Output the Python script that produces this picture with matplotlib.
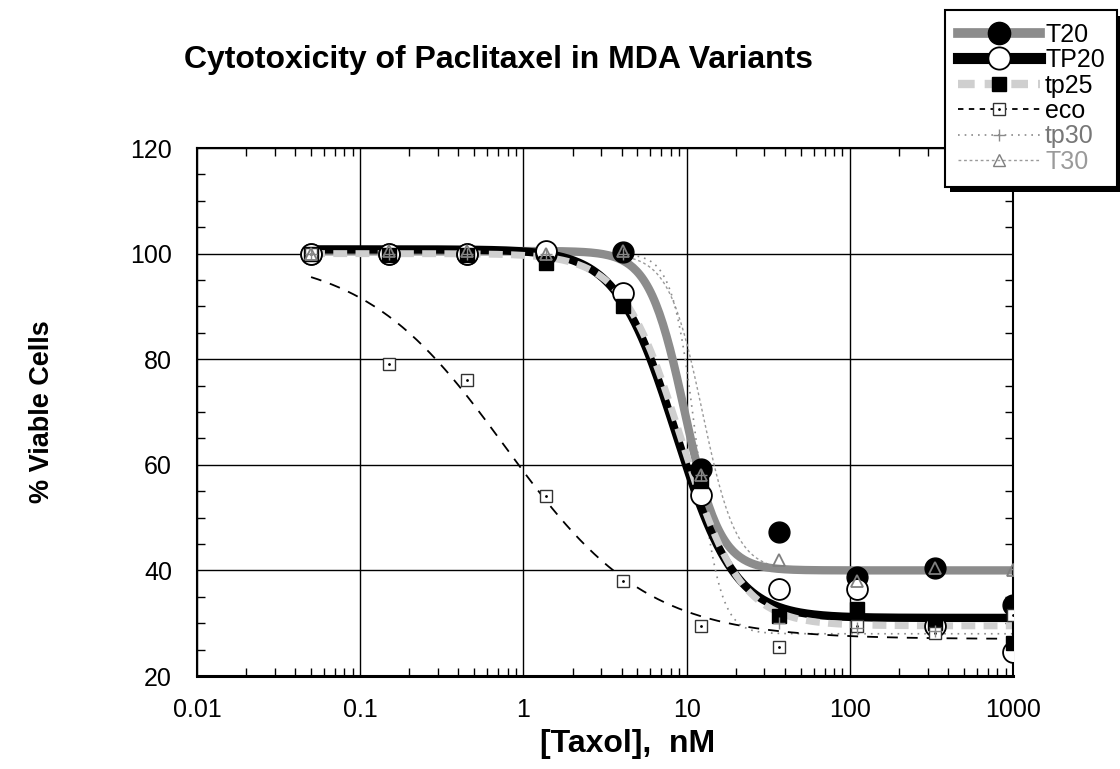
import numpy as np
import matplotlib.pyplot as plt
from matplotlib.lines import Line2D
from matplotlib.patches import Rectangle
from matplotlib.ticker import MultipleLocator, LogLocator, NullFormatter

plt.rcParams['font.family'] = ['Liberation Sans', 'DejaVu Sans']

# Taxol doses (nM) and % viable cells per cell line
doses = [0.05, 0.15, 0.45, 1.37, 4.1, 12.3, 37, 111, 333, 1000]
t20 = [100, 100, 100, 100, 100.3, 59.2, 47.2, 38.8, 40.4, 33.5]
tp20 = [100, 100, 100, 100.4, 92.5, 54.3, 36.4, 36.4, 29.5, 24.6]
tp25 = [100, 99.8, 99.8, 98.2, 90, 57, 31.3, 32.7, 30, 26.3]
eco = [100, 79, 76, 54, 38, 29.4, 25.4, 29.4, 28.2, 31.6]
tp30 = [100, 100, 100, 100, 100, 58, 30, 29, 28.5, 40.3]
t30 = [100, 100.4, 100.4, 100, 100.4, 58, 42, 38, 40.4, 40]

# four-parameter logistic fits: top, bottom, EC50, hill
fit_t20 = [100.5, 40, 9.7, 4.0]
fit_tp20 = [100.8, 31, 8.6, 2.4]
fit_tp25 = [100, 29.5, 9.3, 2.4]
fit_eco = [100, 27, 0.77, 1.0]
fit_tp30 = [100, 28, 11.5, 6.0]
fit_t30 = [100, 40, 12.5, 4.2]


def logistic(x, p):
    top, bottom, ec50, hill = p
    return bottom + (top - bottom) / (1 + (x / ec50) ** hill)


W, H = 1120, 769
fig = plt.figure(figsize=(W / 100, H / 100), dpi=100)
ax = fig.add_axes([197 / W, 1 - 676 / H, (1013 - 197) / W, (676 - 148) / H])

xs = np.logspace(np.log10(doses[0]), np.log10(doses[-1]), 400)

# fitted curves
ax.plot(xs, logistic(xs, fit_t30), color='#9a9a9a', lw=1.0, ls=(0, (2, 2)), zorder=2)
ax.plot(xs, logistic(xs, fit_tp30), color='#8a8a8a', lw=1.2, ls=(0, (1, 3)), zorder=2)
ax.plot(xs, logistic(xs, fit_eco), color='black', lw=1.3, ls=(0, (6, 5)), zorder=2)
ax.plot(xs, logistic(xs, fit_t20), color='#8c8c8c', lw=6, solid_capstyle='butt', zorder=2)
ax.plot(xs, logistic(xs, fit_tp20), color='black', lw=6, solid_capstyle='butt', zorder=2.1)
ax.plot(xs, logistic(xs, fit_tp25), color='#cfcfcf', lw=5, ls=(0, (2, 1.2)), zorder=2.2)

# data points
ax.plot(doses, t20, ls='none', marker='o', ms=15, mfc='black', mec='black', zorder=3)
ax.plot(doses, tp20, ls='none', marker='o', ms=15, mfc='white', mec='black', mew=1.3, zorder=3.1)
ax.plot(doses, tp25, ls='none', marker='s', ms=9.5, mfc='black', mec='black', zorder=3.2)
ax.plot(doses, eco, ls='none', marker='s', ms=9, mfc='white', mec='#333333', mew=1.0, zorder=3.3)
ax.plot(doses, eco, ls='none', marker='.', ms=2, color='black', zorder=3.35)
ax.plot(doses, tp30, ls='none', marker='+', ms=8, mec='#8a8a8a', mew=1, zorder=3.4)
ax.plot(doses, t30, ls='none', marker='^', ms=8, mfc='none', mec='#7f7f7f', mew=1.3, zorder=3.5)

ax.set_xscale('log')
ax.set_xlim(0.01, 1000)
ax.set_ylim(20, 120)
ax.set_xticks([0.01, 0.1, 1, 10, 100, 1000])
ax.set_xticklabels(['0.01', '0.1', '1', '10', '100', '1000'])
ax.xaxis.set_minor_locator(LogLocator(base=10, subs=np.arange(2, 10), numticks=20))
ax.xaxis.set_minor_formatter(NullFormatter())
ax.set_yticks(np.arange(20, 121, 20))
ax.yaxis.set_minor_locator(MultipleLocator(5))
ax.tick_params(which='both', direction='in', top=True, right=True, labelsize=18)
ax.tick_params(which='major', length=0)
ax.tick_params(axis='x', which='major', pad=16)
ax.tick_params(axis='y', which='major', pad=18)
ax.tick_params(which='minor', length=6, width=1)
ax.grid(True, which='major', color='black', lw=1.0)
for s in ax.spines.values():
    s.set_linewidth(1.5)
ax.spines['bottom'].set_linewidth(2.2)

fig.text(498 / W, 1 - 60 / H, 'Cytotoxicity of Paclitaxel in MDA Variants',
         ha='center', va='center', fontsize=23, fontweight='bold')
fig.text(628 / W, 1 - 744 / H, '[Taxol],  nM', ha='center', va='center',
         fontsize=23, fontweight='bold')
fig.text(42 / W, 1 - 412 / H, '% Viable Cells', ha='center', va='center',
         rotation=90, fontsize=19.5, fontweight='bold')

# legend
handles = [
    Line2D([], [], color='#8c8c8c', lw=7, marker='o', ms=16, mfc='black', mec='black'),
    Line2D([], [], color='black', lw=8, marker='o', ms=16, mfc='white', mec='black', mew=1.3),
    Line2D([], [], color='#cfcfcf', lw=6, ls=(0, (2, 1.2)), marker='s', ms=10, mfc='black', mec='black'),
    (Line2D([], [], color='black', lw=1.3, ls=(0, (3, 3)), marker='s', ms=9, mfc='white', mec='#333333'),
     Line2D([], [], ls='none', marker='.', ms=2, color='black')),
    Line2D([], [], color='#8a8a8a', lw=1.2, ls=(0, (1, 3)), marker='+', ms=9, mec='#8a8a8a'),
    Line2D([], [], color='#9a9a9a', lw=1.0, ls=(0, (2, 2)), marker='^', ms=8, mfc='none', mec='#7f7f7f'),
]
labels = ['T20', 'TP20', 'tp25', 'eco', 'tp30', 'T30']
leg = fig.legend(handles, labels, loc='upper left', bbox_to_anchor=(945 / W, 1 - 10 / H),
                 bbox_transform=fig.transFigure, fontsize=18, handlelength=3.3,
                 handletextpad=0.2, labelspacing=0.06, borderpad=0.5, borderaxespad=0,
                 fancybox=False, edgecolor='black', framealpha=1, numpoints=1)
leg.get_frame().set_linewidth(1.5)
for t, c in zip(leg.get_texts(), ['black', 'black', 'black', 'black', '#777777', '#9a9a9a']):
    t.set_color(c)

fig.canvas.draw()
bb = leg.get_window_extent().transformed(fig.transFigure.inverted())
fig.patches.append(Rectangle((bb.x0 + 5 / W, bb.y0 - 6 / H), bb.width, bb.height,
                             transform=fig.transFigure, facecolor='black',
                             edgecolor='none', zorder=4))

fig.savefig('out.png', dpi=100)
